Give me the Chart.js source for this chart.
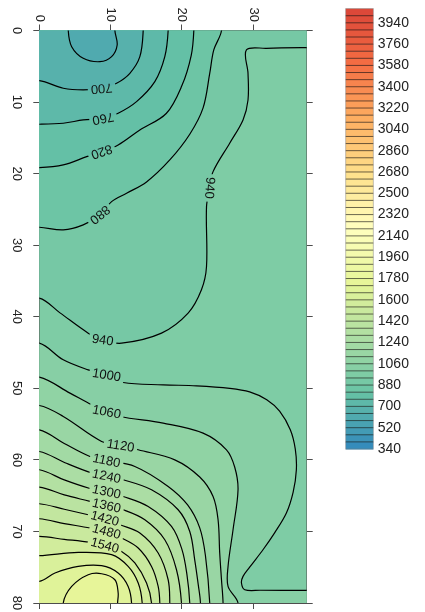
<!DOCTYPE html>
<html>
<head>
<meta charset="utf-8">
<title>Contour</title>
<script src="https://cdn.jsdelivr.net/npm/chart.js@4.4.1/dist/chart.umd.min.js"></script>
<style>
    html, body { margin: 0; padding: 0; background: #fff; }
</style>
</head>
<body>
<canvas id="contourChart" width="425" height="612"></canvas>
<script>
// Axis ranges and tick labels
var xMax = 37.5;
var yMax = 80;
var xTicks = [0, 10, 20, 30];
var yTicks = [0, 10, 20, 30, 40, 50, 60, 70, 80];

// Colour bar
var barMin = 340;
var barMax = 4060;
var barStep = 60;
var barLabels = [340, 520, 700, 880, 1060, 1240, 1420, 1600, 1780, 1960, 2140, 2320,
                 2500, 2680, 2860, 3040, 3220, 3400, 3580, 3760, 3940];

// Contour lines, [x, y] points
var c640 = [[4.06, 0], [4.54, 2.26], [6.16, 3.88], [8.5, 4.36], [10.14, 3.66], [10.92, 2.03], [10.6, 0]];
var c700 = [[0, 7.01], [3.36, 8.07], [6.16, 8.31], [8.74, 8.07], [10.84, 7.37], [12.7, 5.98], [14.1, 3.66], [14.57, 0]];
var c760 = [[0, 13.1], [3.36, 12.96], [6.16, 12.5], [8.96, 12.26], [11.06, 11.56], [13.64, 9.94], [16.2, 7.15], [17.6, 3.66], [18.07, 0]];
var c820 = [[0, 19.16], [3.36, 18.78], [6.64, 17.63], [8.74, 16.93], [11.06, 15.99], [14.1, 13.9], [17.8, 11.6], [20.0, 7.7], [21.3, 3.5], [21.67, 0]];
var c880 = [[0, 27.49], [3.36, 27.86], [6.16, 27.16], [8.5, 25.77], [10.14, 23.91], [12.24, 22.74], [15.04, 21.16], [18.3, 18.09],
            [21.1, 14.5], [22.97, 10.82], [23.9, 6.0], [24.47, 2.72], [25.55, 0]];
var c940 = [[0, 37.4], [2.9, 39.46], [6.86, 42.29], [8.74, 43.23], [11.54, 43.69], [17.14, 42.29], [20.87, 39.5], [22.74, 36.24],
            [23.45, 32.99], [23.45, 24.61], [23.9, 22.0], [24.37, 19.72], [26.7, 15.75], [28.57, 12.5], [29.27, 9.71],
            [29.27, 6.0], [29.05, 2.72], [31.85, 2.49], [37.5, 2.4]];
var c1000 = [[0, 43.69], [3.36, 46.02], [6.86, 47.42], [9.44, 48.12], [11.76, 49.19], [17.37, 49.51], [22.04, 49.65], [26.7, 50.0],
             [29.5, 50.5], [31.9, 51.6], [33.7, 53.2], [35.2, 55.8], [35.9, 58.5], [36.05, 61.4], [35.6, 64.5], [34.65, 67.43],
             [33.0, 70.2], [31.37, 72.56], [29.5, 75.0], [28.57, 76.28], [28.35, 77.21], [28.81, 78.14], [31.0, 78.22], [37.5, 78.24]];
var c1060 = [[0, 48.44], [4.3, 50.67], [7.34, 52.3], [9.44, 53.2], [11.3, 53.94], [17.37, 54.86], [22.97, 56.26], [26.25, 58.59],
             [27.4, 61.0], [27.87, 64.18], [27.17, 69.76], [26.47, 74.89], [26.47, 77.68], [27.87, 80]];
var c1120 = [[0, 52.4], [3.36, 53.94], [8.74, 57.43], [11.3, 57.9], [13.87, 58.59], [19.0, 60.0], [22.5, 62.4], [24.37, 65.11],
             [25.07, 68.37], [25.3, 73.02], [25.55, 76.75], [25.77, 80]];
var c1180 = [[0, 55.8], [3.5, 57.7], [7.1, 59.52], [9.44, 60.08], [13.4, 60.92], [18.07, 63.71], [20.8, 66.3], [22.5, 69.5],
             [23.3, 73.4], [23.9, 80]];
var c1240 = [[0, 58.83], [3.6, 60.4], [7.34, 61.84], [9.44, 62.3], [11.76, 62.78], [15.74, 64.18], [19.47, 66.97], [21.1, 70.0],
             [21.8, 74.0], [22.3, 77.5], [22.6, 80]];
var c1300 = [[0, 61.38], [3.5, 62.8], [7.1, 64.0], [9.44, 64.5], [11.76, 65.11], [15.27, 66.51], [18.54, 69.3], [20.0, 72.5],
             [20.7, 76.0], [21.1, 80]];
var c1360 = [[0, 63.8], [3.5, 64.9], [7.1, 65.8], [9.44, 66.41], [11.76, 66.97], [14.8, 68.37], [17.6, 71.16], [19.24, 75.35], [19.94, 80]];
var c1420 = [[0, 66.13], [3.5, 66.9], [6.86, 67.67], [9.2, 68.23], [11.3, 69.06], [14.1, 70.22], [16.67, 73.02], [18.07, 76.75], [18.3, 80]];
var c1480 = [[0, 68.23], [3.5, 68.9], [7.1, 69.52], [9.44, 70.04], [11.54, 70.92], [13.87, 72.32], [15.74, 74.89], [16.67, 77.68], [16.9, 80]];
var c1540 = [[0, 70.7], [3.5, 71.1], [7.1, 71.53], [9.2, 71.93], [11.54, 72.79], [13.4, 74.41], [15.04, 77.21], [15.74, 80]];
var c1600 = [[0, 73.39], [5.46, 72.93], [10.14, 73.25], [12.46, 74.89], [13.87, 77.21], [14.43, 80]];
var c1660 = [[0, 76.98], [2.2, 75.81], [5.46, 74.89], [8.74, 74.79], [11.06, 75.81], [12.46, 77.68], [12.94, 80]];
var c1720 = [[3.36, 80], [4.54, 77.68], [6.86, 76.05], [8.74, 75.91], [10.6, 76.75], [11.06, 78.6], [10.98, 80]];

// 'low' = the side under the level faces the top left corner
var contours = [
    { level: 640, side: 'low', pts: c640 },
    { level: 700, side: 'low', pts: c700 },
    { level: 760, side: 'low', pts: c760 },
    { level: 820, side: 'low', pts: c820 },
    { level: 880, side: 'low', pts: c880 },
    { level: 940, side: 'low', pts: c940 },
    { level: 1000, side: 'high', pts: c1000 },
    { level: 1060, side: 'high', pts: c1060 },
    { level: 1120, side: 'high', pts: c1120 },
    { level: 1180, side: 'high', pts: c1180 },
    { level: 1240, side: 'high', pts: c1240 },
    { level: 1300, side: 'high', pts: c1300 },
    { level: 1360, side: 'high', pts: c1360 },
    { level: 1420, side: 'high', pts: c1420 },
    { level: 1480, side: 'high', pts: c1480 },
    { level: 1540, side: 'high', pts: c1540 },
    { level: 1600, side: 'high', pts: c1600 },
    { level: 1660, side: 'high', pts: c1660 },
    { level: 1720, side: 'high', pts: c1720 }
];

// Where the contour labels sit (data units) and their angle in degrees
var labelSpots = [
    [700, 8.74, 8.1, 175], [760, 8.96, 12.3, 169], [820, 8.74, 16.95, 161], [880, 8.5, 25.75, 141],
    [940, 23.9, 22.0, 94], [940, 8.9, 43.25, 8], [1000, 9.44, 48.15, 9], [1060, 9.44, 53.3, 11],
    [1120, 11.4, 58.0, 9], [1180, 9.44, 60.1, 12], [1240, 9.44, 62.3, 12], [1300, 9.44, 64.45, 12],
    [1360, 9.44, 66.4, 13], [1420, 9.2, 68.2, 15], [1480, 9.44, 70.0, 15], [1540, 9.2, 71.95, 15]
];

var spectral = ['#3288bd', '#66c2a5', '#abdda4', '#e6f598', '#ffffbf', '#fee08b', '#fdae61', '#f46d43', '#da4538'];
var labelFont = '13px "Liberation Sans", Arial, sans-serif';

function hexToRgb(h) {
    return [parseInt(h.substr(1, 2), 16), parseInt(h.substr(3, 2), 16), parseInt(h.substr(5, 2), 16)];
}

// Map a value to the colour bar palette
function colorFor(value) {
    var t = Math.max(0, Math.min(1, (value - barMin) / (barMax - barMin)));
    var pos = t * (spectral.length - 1);
    var i = Math.min(Math.floor(pos), spectral.length - 2);
    var f = pos - i;
    var a = hexToRgb(spectral[i]);
    var b = hexToRgb(spectral[i + 1]);
    return 'rgb(' + Math.round(a[0] + (b[0] - a[0]) * f) + ',' +
        Math.round(a[1] + (b[1] - a[1]) * f) + ',' +
        Math.round(a[2] + (b[2] - a[2]) * f) + ')';
}

// Push an end point just outside the plot, on the edge it touches
function outside(p) {
    if (p[0] <= 0) return [-5, p[1]];
    if (p[0] >= xMax) return [xMax + 7.5, p[1]];
    if (p[1] <= 0) return [p[0], -5];
    return [p[0], yMax + 5];
}

function toXY(list) {
    return list.map(function(p) { return { x: p[0], y: p[1] }; });
}

var datasets = [];
var bandIndexes = [];

contours.forEach(function(c) {
    var first = c.pts[0];
    var last = c.pts[c.pts.length - 1];
    var line = [outside(first)].concat(c.pts, [outside(last)]);
    var shape = line.slice();
    var onRight = last[0] >= xMax;
    if (c.side === 'low') {
        if (onRight) shape.push([xMax + 10, -10]);
        if (first[1] > 0) shape.push([-10, -10]);
    } else {
        if (onRight) shape.push([xMax + 10, yMax + 10]);
        if (first[1] < yMax) shape.push([-10, yMax + 10]);
    }
    bandIndexes.push(datasets.length);
    datasets.push({
        label: 'band ' + c.level,
        data: toXY(shape),
        side: c.side,
        level: c.level,
        bandColor: colorFor(c.side === 'low' ? c.level - barStep / 2 : c.level + barStep / 2),
        borderWidth: 0,
        borderColor: 'rgba(0,0,0,0)'
    });
    datasets.push({
        label: String(c.level),
        data: toXY(line),
        borderWidth: 1.2,
        borderColor: '#000'
    });
});

// Paint order: low side from high level down, high side from low level up
bandIndexes.sort(function(a, b) {
    var da = datasets[a], db = datasets[b];
    if (da.side !== db.side) return da.side === 'low' ? -1 : 1;
    return da.side === 'low' ? db.level - da.level : da.level - db.level;
});

function labelBox(chart, spot) {
    var ctx = chart.ctx;
    ctx.font = labelFont;
    var w = ctx.measureText(String(spot[0])).width;
    return {
        x: chart.scales.x.getPixelForValue(spot[1]),
        y: chart.scales.y.getPixelForValue(spot[2]),
        a: spot[3] * Math.PI / 180,
        hw: w / 2 + 3,
        hh: 6
    };
}

var contourPlugin = {
    id: 'contourBands',
    beforeDatasetsDraw: function(chart) {
        var ctx = chart.ctx;
        var area = chart.chartArea;
        ctx.save();
        ctx.beginPath();
        ctx.rect(area.left, area.top, area.right - area.left, area.bottom - area.top);
        ctx.clip();
        ctx.fillStyle = colorFor(970);
        ctx.fillRect(area.left, area.top, area.right - area.left, area.bottom - area.top);
        bandIndexes.forEach(function(idx) {
            var meta = chart.getDatasetMeta(idx);
            if (meta.dataset && meta.dataset.updateControlPoints) {
                meta.dataset.updateControlPoints(area, 'x');
            }
            var pts = meta.data;
            ctx.beginPath();
            ctx.moveTo(pts[0].x, pts[0].y);
            for (var i = 1; i < pts.length; i++) {
                var p = pts[i - 1], q = pts[i];
                if (p.cp2x !== undefined && q.cp1x !== undefined) {
                    ctx.bezierCurveTo(p.cp2x, p.cp2y, q.cp1x, q.cp1y, q.x, q.y);
                } else {
                    ctx.lineTo(q.x, q.y);
                }
            }
            ctx.closePath();
            ctx.fillStyle = chart.data.datasets[idx].bandColor;
            ctx.fill();
        });
        ctx.restore();

        // leave gaps in the lines where the labels go
        ctx.save();
        ctx.beginPath();
        ctx.rect(0, 0, chart.width, chart.height);
        labelSpots.forEach(function(spot) {
            var b = labelBox(chart, spot);
            var c = Math.cos(b.a), s = Math.sin(b.a);
            var corners = [[-b.hw, -b.hh], [b.hw, -b.hh], [b.hw, b.hh], [-b.hw, b.hh]];
            corners.forEach(function(k, j) {
                var px = b.x + k[0] * c - k[1] * s;
                var py = b.y + k[0] * s + k[1] * c;
                if (j === 0) ctx.moveTo(px, py); else ctx.lineTo(px, py);
            });
            ctx.closePath();
        });
        ctx.clip('evenodd');
    },
    afterDatasetsDraw: function(chart) {
        var ctx = chart.ctx;
        ctx.restore();
        ctx.save();
        ctx.font = labelFont;
        ctx.fillStyle = '#111';
        ctx.textAlign = 'center';
        ctx.textBaseline = 'middle';
        labelSpots.forEach(function(spot) {
            var b = labelBox(chart, spot);
            ctx.save();
            ctx.translate(b.x, b.y);
            ctx.rotate(b.a);
            ctx.fillText(String(spot[0]), 0, 0.5);
            ctx.restore();
        });
        ctx.restore();
    },
    afterDraw: function(chart) {
        var ctx = chart.ctx;
        var area = chart.chartArea;
        var xs = chart.scales.x, ys = chart.scales.y;

        // rotated tick labels
        ctx.save();
        ctx.font = '13px "Liberation Sans", Arial, sans-serif';
        ctx.fillStyle = '#222';
        ctx.textBaseline = 'middle';
        xTicks.forEach(function(t) {
            ctx.save();
            ctx.translate(xs.getPixelForValue(t), area.top - 8.5);
            ctx.rotate(Math.PI / 2);
            ctx.textAlign = 'right';
            ctx.fillText(String(t), 0, 0);
            ctx.restore();
        });
        yTicks.forEach(function(t) {
            ctx.save();
            ctx.translate(area.left - 23, ys.getPixelForValue(t));
            ctx.rotate(Math.PI / 2);
            ctx.textAlign = 'center';
            ctx.fillText(String(t), 0, 0);
            ctx.restore();
        });
        ctx.restore();

        // colour bar
        var left = 345.7, right = 373.3, top = 8.6, bottom = 449;
        var barY = function(v) { return bottom - (v - barMin) / (barMax - barMin) * (bottom - top); };
        ctx.save();
        for (var v = barMin; v < barMax; v += barStep) {
            ctx.fillStyle = colorFor(v + barStep / 2);
            ctx.fillRect(left, barY(v + barStep), right - left, barY(v) - barY(v + barStep) + 0.5);
        }
        ctx.strokeStyle = 'rgba(20,20,20,0.7)';
        ctx.lineWidth = 0.9;
        for (v = barMin + barStep; v < barMax; v += barStep) {
            ctx.beginPath();
            ctx.moveTo(left, barY(v));
            ctx.lineTo(right, barY(v));
            ctx.stroke();
        }
        ctx.strokeStyle = 'rgba(120,120,120,0.5)';
        ctx.strokeRect(left, top, right - left, bottom - top);
        ctx.font = '14px "Liberation Sans", Arial, sans-serif';
        ctx.fillStyle = '#222';
        ctx.textAlign = 'left';
        ctx.textBaseline = 'middle';
        barLabels.forEach(function(l) {
            ctx.fillText(String(l), right + 4.5, barY(l));
        });
        ctx.restore();
    }
};

function axis(position, max, ticks) {
    return {
        type: 'linear',
        position: position,
        min: 0,
        max: max,
        reverse: position === 'left' || position === 'right',
        z: 1,
        afterBuildTicks: function(scale) {
            scale.ticks = ticks.map(function(v) { return { value: v }; });
        },
        ticks: { display: false },
        grid: { display: true, drawOnChartArea: false, drawTicks: true, tickLength: 6, color: '#4d4d4d' },
        border: { display: true, color: '#4d4d4d', width: 1 }
    };
}

var chart = new Chart(document.getElementById('contourChart').getContext('2d'), {
    type: 'scatter',
    data: { datasets: datasets },
    options: {
        responsive: false,
        animation: false,
        events: [],
        showLine: true,
        layout: { autoPadding: false, padding: { left: 33.3, top: 24.5, right: 112.3, bottom: 3 } },
        elements: {
            point: { radius: 0, hoverRadius: 0 },
            line: { tension: 0.35, capBezierPoints: false, fill: false }
        },
        datasets: { scatter: { showLine: true, clip: 0 } },
        plugins: { legend: { display: false }, tooltip: { enabled: false } },
        scales: {
            x: axis('top', xMax, xTicks),
            x2: axis('bottom', xMax, xTicks),
            y: axis('left', yMax, yTicks),
            y2: axis('right', yMax, yTicks)
        }
    },
    plugins: [contourPlugin]
});
</script>
</body>
</html>
